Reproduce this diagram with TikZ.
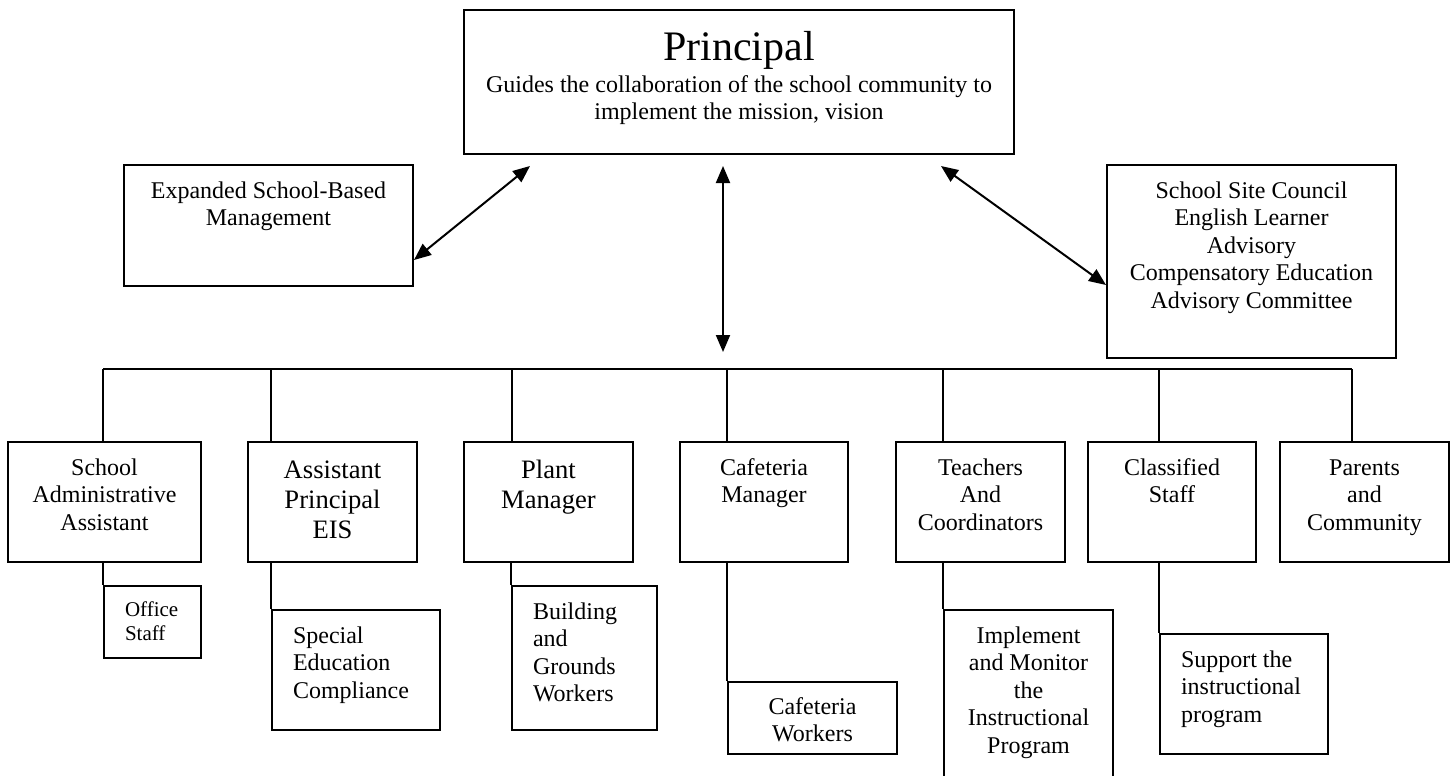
\documentclass[tikz,border=0pt]{standalone}
\usepackage{fontspec}
\setmainfont{Liberation Serif}
\usepackage{tikz}
\usetikzlibrary{calc}
\usetikzlibrary{arrows.meta}
\usetikzlibrary{positioning}
\tikzset{>={Triangle[length=8.5pt,width=7pt]}}
\newlength\pxu
\setlength\pxu{0.5pt}
% width, height, first baseline, alignment, text
\newcommand\boxtext[5]{\parbox[c][#2\pxu][t]{#1\pxu}{#4\rule{0pt}{#3\pxu}#5}}
\newcommand\ctr{\centering}
\newcommand\lft{\raggedright\leftskip=21\pxu}
\tikzstyle{box} = [draw, line width=1pt, inner sep=0pt, anchor=north west, font=\fontsize{12}{13.8}\selectfont]
\tikzstyle{bigbox} = [box, font=\fontsize{13.3}{15}\selectfont]
\tikzstyle{smallbox} = [box, font=\fontsize{10.5}{12}\selectfont]
\tikzstyle{link} = [line width=1pt]

\begin{document}
\begin{tikzpicture}[x=0.5pt, y=-0.5pt]
\clip (0,0) rectangle (1453,776);
% top level
\node [box] (prin) at (463,9) {\boxtext{550}{144}{51}{\ctr}{{\fontsize{21}{24}\selectfont Principal\par}\vspace{1.7pt}Guides the collaboration of the school community to\\implement the mission, vision}};
\node [box] (ebm) at (123,164) {\boxtext{289}{121}{33}{\ctr}{Expanded School-Based\\Management}};
\node [box] (ssc) at (1106,164) {\boxtext{289}{193}{33}{\ctr}{School Site Council\\English Learner\\Advisory\\Compensatory Education\\Advisory Committee}};
% second level
\node [box] (saa) at (7,441) {\boxtext{193}{120}{33}{\ctr}{School\\Administrative\\Assistant}};
\node [bigbox] (ap) at (247,441) {\boxtext{169}{120}{36}{\ctr}{Assistant\\Principal\\EIS}};
\node [bigbox] (pm) at (463,441) {\boxtext{169}{120}{36}{\ctr}{Plant\\Manager}};
\node [box] (cm) at (679,441) {\boxtext{168}{120}{33}{\ctr}{Cafeteria\\Manager}};
\node [box] (tc) at (895,441) {\boxtext{169}{120}{33}{\ctr}{Teachers\\And\\Coordinators}};
\node [box] (cs) at (1087,441) {\boxtext{168}{120}{33}{\ctr}{Classified\\Staff}};
\node [box] (pc) at (1279,441) {\boxtext{169}{120}{33}{\ctr}{Parents\\and\\Community}};
% third level
\node [smallbox] (off) at (103,585) {\boxtext{97}{72}{30}{\lft}{Office\\Staff}};
\node [box] (sec) at (271,609) {\boxtext{168}{120}{33}{\lft}{Special\\Education\\Compliance}};
\node [box] (bgw) at (511,585) {\boxtext{145}{144}{33}{\lft}{Building\\and\\Grounds\\Workers}};
\node [box] (cw) at (727,681) {\boxtext{169}{72}{32}{\ctr}{Cafeteria\\Workers}};
\node [box] (imp) at (943,609) {\boxtext{169}{190}{33}{\ctr}{Implement\\and Monitor\\the\\Instructional\\Program}};
\node [box] (sup) at (1159,633) {\boxtext{168}{120}{33}{\lft}{Support the\\instructional\\program}};
% bus
\coordinate (hub) at (723,369);
\coordinate (b1) at (103,369);
\coordinate (b2) at (271,369);
\coordinate (b3) at (512,369);
\coordinate (b4) at (727,369);
\coordinate (b5) at (943,369);
\coordinate (b6) at (1159,369);
\coordinate (b7) at (1352,369);
\draw [<->, link] ($(ebm.south east)+(0,-27)$) -- ($(prin.south west)+(67,11)$);
\draw [<->, link] ($(prin.south -| hub)+(0,11)$) -- ($(hub)+(0,-17)$);
\draw [<->, link] ($(prin.south east)+(-74,11)$) -- ($(ssc.south west)+(0,-74)$);
\draw [link] (b1) -- (b7);
\draw [link] (b1) -- (b1 |- saa.north);
\draw [link] (b2) -- (b2 |- ap.north);
\draw [link] (b3) -- (b3 |- pm.north);
\draw [link] (b4) -- (b4 |- cm.north);
\draw [link] (b5) -- (b5 |- tc.north);
\draw [link] (b6) -- (b6 |- cs.north);
\draw [link] (b7) -- (b7 |- pc.north);
%\draw [link] (saa.south) -- (off.north);
\draw [link] (saa.south -| off.north west) -- (off.north west);
\draw [link] (ap.south -| sec.north west) -- (sec.north west);
\draw [link] (pm.south -| bgw.north west) -- (bgw.north west);
\draw [link] (cm.south -| cw.north west) -- (cw.north west);
\draw [link] (tc.south -| imp.north west) -- (imp.north west);
\draw [link] (cs.south -| sup.north west) -- (sup.north west);
\end{tikzpicture}
\end{document}
